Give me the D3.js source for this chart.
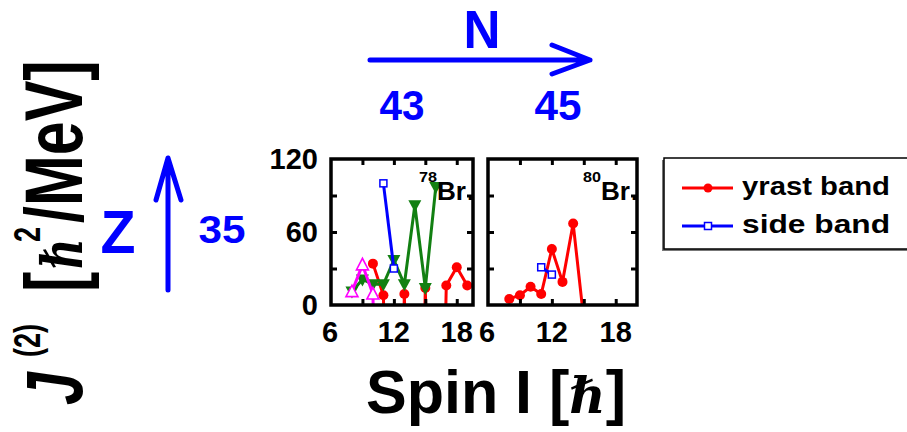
<!DOCTYPE html>
<html><head><meta charset="utf-8">
<script src="https://cdn.jsdelivr.net/npm/d3@7"></script>
<style>body{margin:0;background:#fff}text{font-family:"Liberation Sans",Arial,sans-serif;font-weight:bold}</style>
</head><body><svg id="c" width="907" height="432"></svg>
<script>
// ---- data ----
const yTickLabels = [0, 60, 120];
const xTickLabels = [6, 12, 18];
// 78Br
const br78Yrast = [[10,34],[11,8],[12,-400],[13,9],[14,-400],[15,14],[16,-400],[17,16],[18,31],[19,16]];
const br78Side = [[11,100],[12,30]];
const br78Green = [[8,11],[9,21],[10,17],[11,17],[12,37],[13,17],[14,82],[15,14],[16,97]];
const br78Magenta = [[8,11],[9,33],[10,9],[11,-400]];
// 80Br
const br80Yrast = [[8,5],[9,8],[10,15],[11,9],[12,46],[13,19],[14,67],[15,-12]];
const br80Side = [[11,31],[12,25]];
const legendLabels = ["yrast band", "side  band"];

const svg = d3.select("#c");
const yTop = 159, yBot = 305;
const y = d3.scaleLinear().domain([0,120]).range([yBot, yTop]);
const hbarFont = '"DejaVu Serif",serif';

function txt(x, yy, s, size, len, anchor, color) {
  const t = svg.append("text").attr("x", x).attr("y", yy).attr("font-size", size)
    .attr("fill", color || "#000").attr("text-anchor", anchor || "middle").text(s);
  if (len) t.attr("textLength", len).attr("lengthAdjust", "spacingAndGlyphs");
  return t;
}

const panels = [
  {x0:331, x1:473, dom:[6,19.55], name:"78", series:[
    {d:br78Yrast, c:"#ff0000", m:"circle"},
    {d:br78Green, c:"#128012", m:"tridown"},
    {d:br78Magenta, c:"#ff00ff", m:"triup"},
    {d:br78Side, c:"#0000ff", m:"square"}]},
  {x0:488, x1:637, dom:[6,20], name:"80", series:[
    {d:br80Yrast, c:"#ff0000", m:"circle"},
    {d:br80Side, c:"#0000ff", m:"square"}]}
];

panels.forEach((p, i) => {
  const x = d3.scaleLinear().domain(p.dom).range([p.x0, p.x1]);
  const g = svg.append("g");
  const cid = "clip" + i;
  svg.append("clipPath").attr("id", cid).append("rect")
    .attr("x", p.x0).attr("y", yTop).attr("width", p.x1 - p.x0).attr("height", yBot - yTop);
  const dg = g.append("g").attr("clip-path", `url(#${cid})`);
  const line = d3.line().x(d => x(d[0])).y(d => y(d[1]));
  p.series.forEach(s => {
    dg.append("path").attr("d", line(s.d)).attr("fill", "none").attr("stroke", s.c).attr("stroke-width", 3);
    const vis = s.d.filter(d => d[1] >= -10);
    vis.forEach(d => {
      const cx = x(d[0]), cy = y(d[1]);
      if (s.m === "circle") dg.append("circle").attr("cx", cx).attr("cy", cy).attr("r", 5).attr("fill", s.c);
      else if (s.m === "square") dg.append("rect").attr("x", cx-3.5).attr("y", cy-3.5).attr("width", 7).attr("height", 7).attr("fill", "#fff").attr("stroke", s.c).attr("stroke-width", 1.5);
      else if (s.m === "tridown") dg.append("path").attr("d", `M${cx-6.5},${cy-5}L${cx+6.5},${cy-5}L${cx},${cy+7}Z`).attr("fill", s.c);
      else if (s.m === "triup") dg.append("path").attr("d", `M${cx-6},${cy+5}L${cx+6},${cy+5}L${cx},${cy-6.5}Z`).attr("fill", "#fff").attr("stroke", s.c).attr("stroke-width", 1.6);
    });
  });
  const tickStyle = a => { a.select(".domain").remove(); a.selectAll("line").attr("stroke", "#000").attr("stroke-width", 3); a.selectAll("text").remove(); };
  g.append("g").attr("transform", `translate(0,${yBot})`).call(d3.axisBottom(x).tickValues([9,12,15,18]).tickSize(-6)).call(tickStyle);
  g.append("g").attr("transform", `translate(0,${yTop})`).call(d3.axisTop(x).tickValues([9,12,15,18]).tickSize(-6)).call(tickStyle);
  g.append("g").attr("transform", `translate(${p.x0},0)`).call(d3.axisLeft(y).tickValues([30,60,90]).tickSize(-6)).call(tickStyle);
  g.append("g").attr("transform", `translate(${p.x1},0)`).call(d3.axisRight(y).tickValues([30,60,90]).tickSize(-6)).call(tickStyle);
  g.append("rect").attr("x", p.x0).attr("y", yTop).attr("width", p.x1 - p.x0).attr("height", yBot - yTop)
    .attr("fill", "none").attr("stroke", "#000").attr("stroke-width", 3.5);
  xTickLabels.forEach(v => txt(x(v) - (v===6 ? 1 : 0), 342, String(v), 29));
  const bx = p.x1 - 36;
  txt(bx, 182, p.name, 15, 18, "end");
  txt(bx, 200, "Br", 26, 29, "start");
  txt(bx + 30, 200, ".", 25, null, "start");
});

yTickLabels.forEach(v => txt(318, y(v) + 10, String(v), 29, null, "end"));

// x title (tspans flow naturally)
const st = svg.append("text").attr("x", 366).attr("y", 413).attr("font-size", 60).attr("text-anchor", "start");
st.append("tspan").attr("font-size", 61).text("Spin I [");
st.append("tspan").attr("font-family", hbarFont).attr("font-style", "italic").attr("font-weight", "bold").attr("font-size", 50).text("ℏ");
st.append("tspan").attr("font-size", 61).text("]");

// y title (rotated, stretched across the baseline)
const yl = svg.append("text").attr("transform", "translate(82,405) rotate(-90) scale(1,1.35)").attr("font-size", 61).attr("text-anchor", "start");
yl.append("tspan").attr("x", 0).attr("font-style", "italic").attr("font-size", 59).text("J");
yl.append("tspan").attr("x", 48).attr("dy", -31).attr("font-size", 27).text("(2)");
yl.append("tspan").attr("x", 113).attr("dy", 31).text("[");
yl.append("tspan").attr("x", 136).attr("font-family", hbarFont).attr("font-style", "italic").attr("font-weight", "bold").attr("font-size", 42).text("ℏ");
yl.append("tspan").attr("x", 163).attr("dy", -31).attr("font-size", 27).text("2");
yl.append("tspan").attr("x", 182).attr("dy", 31).text("/MeV]");

// N and Z annotations
const blue = "#0000ff";
svg.append("path").attr("d", "M370,60L590,60M552,45L590,60L552,74").attr("fill", "none")
  .attr("stroke", blue).attr("stroke-width", 5).attr("stroke-linecap", "round").attr("stroke-linejoin", "round");
txt(482, 48, "N", 54, 37, "middle", blue);
txt(402, 120, "43", 43, 45, "middle", blue);
txt(558, 120, "45", 43, 47, "middle", blue);
svg.append("path").attr("d", "M168,290L168,158M156,200L168,158L181,200").attr("fill", "none")
  .attr("stroke", blue).attr("stroke-width", 5).attr("stroke-linecap", "round").attr("stroke-linejoin", "round");
txt(118, 253, "Z", 62, 35, "middle", blue);
txt(222, 243, "35", 39, 47, "middle", blue);

// legend
svg.append("rect").attr("x", 662).attr("y", 160).attr("width", 260).attr("height", 91).attr("fill", "#777");
svg.append("rect").attr("x", 664).attr("y", 158).attr("width", 260).attr("height", 91).attr("fill", "#fff").attr("stroke", "#000").attr("stroke-width", 1.5);
const legColors = ["#ff0000", blue];
legendLabels.forEach((l, i) => {
  const ly = 188 + i * 38;
  svg.append("line").attr("x1", 682).attr("x2", 733).attr("y1", ly).attr("y2", ly).attr("stroke", legColors[i]).attr("stroke-width", 3);
  if (i === 0) svg.append("circle").attr("cx", 708).attr("cy", ly).attr("r", 4.5).attr("fill", legColors[i]);
  else svg.append("rect").attr("x", 704.5).attr("y", ly - 3.5).attr("width", 7).attr("height", 7).attr("fill", "#fff").attr("stroke", legColors[i]).attr("stroke-width", 1.5);
  txt(742, ly + 7, l, 25, 148, "start");
});
</script></body></html>
